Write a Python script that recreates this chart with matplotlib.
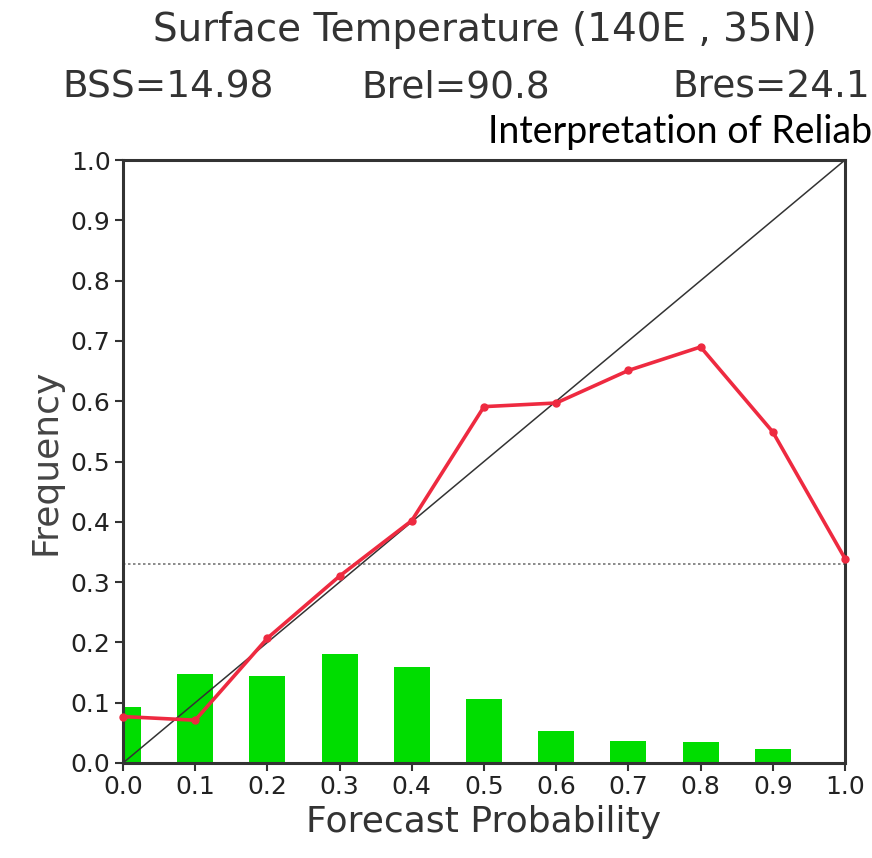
import numpy as np
import matplotlib
matplotlib.use('Agg')
from matplotlib import pyplot as plt

# reliability diagram data
prob_bins = [0.0, 0.1, 0.2, 0.3, 0.4, 0.5, 0.6, 0.7, 0.8, 0.9, 1.0]
obs_freq = [0.077, 0.071, 0.207, 0.310, 0.402, 0.591, 0.597, 0.651, 0.690, 0.549, 0.339]
fcst_share = [0.093, 0.148, 0.145, 0.181, 0.159, 0.106, 0.053, 0.037, 0.034, 0.023]
clim = 0.33

title = 'Surface Temperature (140E , 35N)'
scores = ['BSS=14.98', 'Brel=90.8', 'Bres=24.1']
tick_labels = ['0.0', '0.1', '0.2', '0.3', '0.4', '0.5', '0.6', '0.7', '0.8', '0.9', '1.0']

fig = plt.figure(figsize=(8.72, 8.58), dpi=100)
ax = fig.add_axes([123 / 872, 1 - 763 / 858, 722 / 872, 603 / 858])

# forecast frequency histogram
ax.bar(prob_bins[:-1], fcst_share, width=0.05, color='#00dd00', zorder=1)

# perfect reliability and climatology
ax.plot([0, 1], [0, 1], color='#333333', lw=1.1, zorder=2)
ax.axhline(clim, color='#777777', lw=1.2, ls=(0, (1.5, 1.5)), zorder=2)

# observed frequency curve
ax.plot(prob_bins, obs_freq, color='#ee2a40', lw=2.6, marker='o', ms=5,
        zorder=3, clip_on=False)

ax.set_xlim(0, 1)
ax.set_ylim(0, 1)
ax.set_xticks(prob_bins)
ax.set_xticklabels(tick_labels)
ax.set_yticks(prob_bins)
ax.set_yticklabels(tick_labels)
ax.tick_params(direction='out', length=6, width=1.5, color='#333333',
               labelsize=18, labelcolor='#222222', pad=3)
for sp in ax.spines.values():
    sp.set_linewidth(2.2)
    sp.set_color('#333333')

ax.set_xlabel('Forecast Probability', fontsize=26, color='#333333', labelpad=4)
ax.set_ylabel('Frequency', fontsize=26, color='#444444', labelpad=6)

# header lines
fig.text(485 / 872, 1 - 30 / 858, title, ha='center', va='center',
         fontsize=28, color='#333333')
for s, xc in zip(scores, [168, 456, 771]):
    fig.text(xc / 872, 1 - 87 / 858, s, ha='center', va='center',
             fontsize=27, color='#333333')
fig.text(488 / 872, 1 - 143 / 858, 'Interpretation of Reliab', ha='left',
         va='baseline', fontsize=27, family='Lato', color='black')

fig.savefig('out.png', dpi=100, facecolor='white')
